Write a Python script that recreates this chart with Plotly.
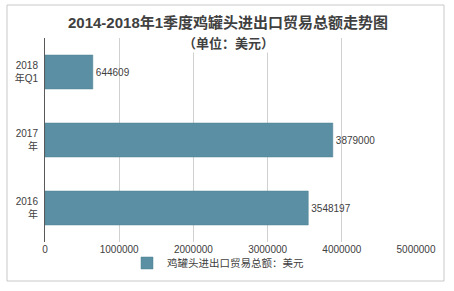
import plotly.graph_objects as go

categories = ["2016<br>年", "2017<br>年", "2018<br>年Q1"]
values = [3548197, 3879000, 644609]
value_labels = ["3548197", "3879000", "644609"]
x_ticks = [0, 1000000, 2000000, 3000000, 4000000, 5000000]
series_name = "鸡罐头进出口贸易总额：美元"
title_line1 = "2014-2018年1季度鸡罐头进出口贸易总额走势图"
title_line2 = "（单位：美元）"

FONT = "Liberation Sans, Arial, Noto Sans CJK SC, sans-serif"
W, H = 454, 291
L, R, T, B = 45, 38, 38, 49
pw, ph = W - L - R, H - T - B

def px_x(x):
    return (x - L) / pw

def px_y(y):
    return (H - B - y) / ph

fig = go.Figure()
fig.add_trace(go.Bar(
    y=categories, x=values, orientation="h", name=series_name,
    marker=dict(color="#5b8fa3", line=dict(color="#4f8193", width=0.5)),
    text=value_labels, textposition="outside",
    textfont=dict(size=10, color="#404040", family=FONT),
    cliponaxis=False,
))

fig.update_layout(
    width=W, height=H,
    margin=dict(l=L, r=R, t=T, b=B),
    paper_bgcolor="white", plot_bgcolor="white",
    bargap=0.5,
    showlegend=True,
    legend=dict(orientation="h", x=px_x(127), xanchor="left", y=px_y(263), yanchor="middle",
                font=dict(size=10.5, color="#404040", family=FONT),
                itemwidth=30, bgcolor="rgba(0,0,0,0)"),
    xaxis=dict(range=[0, 5000000], tickvals=x_ticks, ticktext=[str(v) for v in x_ticks],
               showgrid=True, gridcolor="#d0d0d0", gridwidth=1, zeroline=False,
               showline=False, tickfont=dict(size=10, color="#404040", family=FONT),
               ticks="", fixedrange=True),
    yaxis=dict(showgrid=False, showline=True, linecolor="#595959", linewidth=1,
               tickfont=dict(size=10, color="#404040", family=FONT), ticks="",
               ticklabelstandoff=4),
    font=dict(family=FONT),
)

fig.add_annotation(text="<b>" + title_line1 + "</b>", xref="paper", yref="paper",
                   x=px_x(228), y=px_y(22), xanchor="center", yanchor="middle",
                   showarrow=False, font=dict(size=15, color="#404040", family=FONT))
fig.add_annotation(text="<b>" + title_line2 + "</b>", xref="paper", yref="paper",
                   x=px_x(228), y=px_y(43), xanchor="center", yanchor="middle",
                   showarrow=False, bgcolor="white",
                   font=dict(size=13, color="#404040", family=FONT))

fig.add_shape(type="rect", xref="paper", yref="paper",
              x0=px_x(7), x1=px_x(444), y0=px_y(281), y1=px_y(5),
              line=dict(color="#c8c8c8", width=1), fillcolor="rgba(0,0,0,0)", layer="below")

fig.write_html("out.html")
